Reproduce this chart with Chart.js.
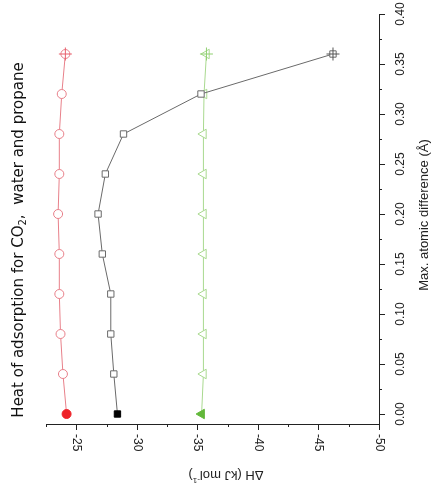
<!DOCTYPE html>
<html>
<head>
<meta charset="utf-8">
<script src="https://cdn.jsdelivr.net/npm/chart.js@4"></script>
<style>
  html, body { margin: 0; padding: 0; background: #fff; }
  #wrap { width: 432px; height: 495px; }
</style>
</head>
<body>
<div id="wrap"><canvas id="grafica"></canvas></div>
<script>
// Max. atomic difference (vertical axis after rotation)
const diffValues = [0.00, 0.04, 0.08, 0.12, 0.16, 0.20, 0.24, 0.28, 0.32, 0.36];
// Heat of adsorption, kJ/mol
const co2Heat = [-24.2, -23.9, -23.7, -23.6, -23.6, -23.5, -23.6, -23.6, -23.8, -24.1];
const waterHeat = [-28.4, -28.1, -27.85, -27.85, -27.15, -26.8, -27.4, -28.9, -35.3, -46.2];
const propaneHeat = [-35.35, -35.5, -35.5, -35.5, -35.5, -35.5, -35.5, -35.5, -35.55, -35.75];

// Tick labels
const heatTicks = [-25, -30, -35, -40, -45, -50];
const heatMinor = [-22.5, -27.5, -32.5, -37.5, -42.5, -47.5];
const diffTicks = [0.00, 0.05, 0.10, 0.15, 0.20, 0.25, 0.30, 0.35, 0.40];
const diffMinor = [0.025, 0.075, 0.125, 0.175, 0.225, 0.275, 0.325, 0.375];

function puntos(heat) {
    return heat.map((h, i) => ({ x: h, y: diffValues[i] }));
}

// primer punto relleno, el resto abierto
function relleno(color, n) {
    return Array.from({ length: n }, (_, i) => i === 0 ? color : '#ffffff');
}

function serie(heat, lineColor, fillColor, style, rotation, radius) {
    const n = heat.length;
    return {
        data: puntos(heat),
        showLine: true,
        borderColor: lineColor,
        borderWidth: 1,
        pointStyle: style,
        rotation: rotation,
        pointRadius: radius,
        pointBorderWidth: 1,
        pointBorderColor: Array.from({ length: n }, (_, i) => i === 0 ? fillColor : lineColor),
        pointBackgroundColor: relleno(fillColor, n),
        order: 2
    };
}

// cruz sobre el último punto
function cruz(heat, color) {
    const i = heat.length - 1;
    return {
        data: [{ x: heat[i], y: diffValues[i] }],
        showLine: false,
        pointStyle: 'cross',
        pointRadius: 6.5,
        pointBorderWidth: 1,
        pointBorderColor: color,
        order: 1
    };
}

const textoEjes = {
    id: 'textoEjes',
    afterDraw(chart) {
        const ctx = chart.ctx;
        const xs = chart.scales.x;
        const ys = chart.scales.y;
        const area = chart.chartArea;
        ctx.save();

        // marcas de los ejes
        ctx.strokeStyle = '#222';
        ctx.lineWidth = 1;
        ctx.beginPath();
        heatTicks.forEach(v => {
            const px = Math.round(xs.getPixelForValue(v)) + 0.5;
            ctx.moveTo(px, area.bottom); ctx.lineTo(px, area.bottom + 6);
        });
        heatMinor.forEach(v => {
            const px = Math.round(xs.getPixelForValue(v)) + 0.5;
            ctx.moveTo(px, area.bottom); ctx.lineTo(px, area.bottom + 3);
        });
        diffTicks.forEach(v => {
            const py = Math.round(ys.getPixelForValue(v)) + 0.5;
            ctx.moveTo(area.right, py); ctx.lineTo(area.right + 6, py);
        });
        diffMinor.forEach(v => {
            const py = Math.round(ys.getPixelForValue(v)) + 0.5;
            ctx.moveTo(area.right, py); ctx.lineTo(area.right + 3, py);
        });
        ctx.stroke();

        ctx.fillStyle = '#222';
        ctx.font = '12px "Liberation Sans", Arial, sans-serif';

        // etiquetas del eje inferior (giradas 90°)
        ctx.textAlign = 'left';
        ctx.textBaseline = 'middle';
        heatTicks.forEach(v => {
            ctx.save();
            ctx.translate(xs.getPixelForValue(v), area.bottom + 10);
            ctx.rotate(Math.PI / 2);
            ctx.fillText(String(v), 0, 0);
            ctx.restore();
        });

        // etiquetas del eje derecho (giradas -90°)
        ctx.textAlign = 'center';
        diffTicks.forEach(v => {
            ctx.save();
            ctx.translate(area.right + 22, ys.getPixelForValue(v));
            ctx.rotate(-Math.PI / 2);
            ctx.fillText(v.toFixed(2), 0, 0);
            ctx.restore();
        });

        // título eje derecho
        ctx.save();
        ctx.font = '13px "Liberation Sans", Arial, sans-serif';
        ctx.translate(area.right + 45, 215);
        ctx.rotate(-Math.PI / 2);
        ctx.fillText('Max. atomic difference (\u00C5)', 0, 0);
        ctx.restore();

        // título eje inferior (al revés)
        ctx.save();
        ctx.translate(226, 475);
        ctx.rotate(Math.PI);
        const f1 = '13px "Liberation Sans", Arial, sans-serif';
        const f2 = '8px "Liberation Sans", Arial, sans-serif';
        ctx.font = f1;
        const a = 'ΔH (kJ mol', b = '-1', c = ')';
        const wa = ctx.measureText(a).width, wc = ctx.measureText(c).width;
        ctx.font = f2;
        const wb = ctx.measureText(b).width;
        let x0 = -(wa + wb + wc) / 2;
        ctx.textAlign = 'left';
        ctx.font = f1; ctx.fillText(a, x0, 0);
        ctx.font = f2; ctx.fillText(b, x0 + wa, -5);
        ctx.font = f1; ctx.fillText(c, x0 + wa + wb, 0);
        ctx.restore();

        // título de la izquierda
        ctx.save();
        ctx.translate(19, 240);
        ctx.rotate(-Math.PI / 2);
        const g1 = '15px "DejaVu Sans", sans-serif';
        const g2 = '10px "DejaVu Sans", sans-serif';
        ctx.font = g1;
        const t1 = 'Heat of adsorption for CO', t2 = '2', t3 = ',  water and propane';
        const w1 = ctx.measureText(t1).width, w3 = ctx.measureText(t3).width;
        ctx.font = g2;
        const w2 = ctx.measureText(t2).width;
        let s = -(w1 + w2 + w3) / 2;
        ctx.textAlign = 'left';
        ctx.fillStyle = '#111';
        ctx.font = g1; ctx.fillText(t1, s, 0);
        ctx.font = g2; ctx.fillText(t2, s + w1, 4);
        ctx.font = g1; ctx.fillText(t3, s + w1 + w2, 0);
        ctx.restore();

        ctx.restore();
    }
};

new Chart(document.getElementById('grafica'), {
    type: 'scatter',
    data: {
        datasets: [
            serie(co2Heat, '#e8808a', '#ee2229', 'circle', 0, 4.5),
            serie(waterHeat, '#6a6a6a', '#000000', 'rect', 0, 4.5),
            serie(propaneHeat, '#a9d98f', '#62b83a', 'triangle', -90, 5.5),
            cruz(co2Heat, '#e8606c'),
            cruz(waterHeat, '#555555'),
            cruz(propaneHeat, '#8fd070')
        ]
    },
    options: {
        responsive: true,
        maintainAspectRatio: false,
        animation: false,
        layout: { padding: { left: 46, right: 53, top: 14, bottom: 71 } },
        plugins: {
            legend: { display: false },
            tooltip: { enabled: false }
        },
        scales: {
            x: {
                type: 'linear',
                reverse: true,
                min: -50,
                max: -22.5,
                grid: { display: false, drawTicks: false },
                border: { display: true, color: '#222', width: 1 },
                ticks: { display: false }
            },
            y: {
                type: 'linear',
                position: 'right',
                min: -0.01,
                max: 0.40,
                grid: { display: false, drawTicks: false },
                border: { display: true, color: '#222', width: 1 },
                ticks: { display: false }
            }
        }
    },
    plugins: [textoEjes]
});
</script>
</body>
</html>
